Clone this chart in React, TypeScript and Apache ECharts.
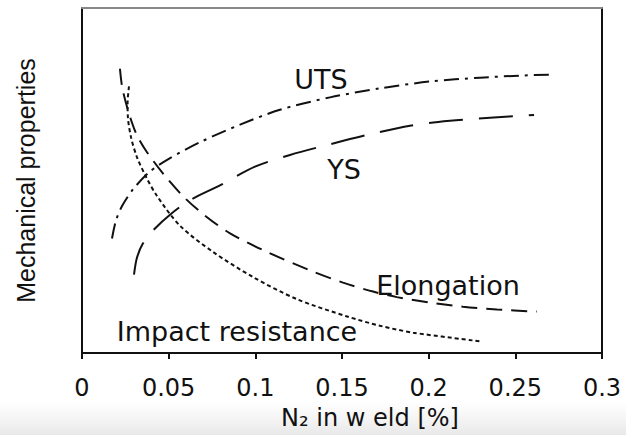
import React, { useEffect, useRef } from "react";
import * as echarts from "echarts";

// x: N2 in weld [%], y: relative mechanical property level (0-100, axis hidden)
const utsX = [0.0173, 0.0196, 0.0231, 0.0294, 0.0392, 0.0508, 0.0681, 0.0912, 0.1142, 0.1431, 0.1719, 0.2008, 0.2296, 0.2527, 0.2717];
const utsY = [33.2, 38.4, 42.6, 47.4, 52.6, 56.5, 61.1, 66.2, 70.5, 74.1, 76.7, 78.7, 79.8, 80.4, 80.7];

const ysX = [0.03, 0.0317, 0.0352, 0.0421, 0.0508, 0.0623, 0.0796, 0.0998, 0.12, 0.1431, 0.1662, 0.1892, 0.2123, 0.2354, 0.2608];
const ysY = [22.7, 27.6, 31.8, 36.1, 40.1, 44.3, 48.6, 54.0, 57.4, 60.5, 63.4, 65.9, 67.3, 68.2, 69.0];

const elongX = [0.0219, 0.0231, 0.0254, 0.0288, 0.0317, 0.0375, 0.0473, 0.0588, 0.071, 0.0854, 0.1067, 0.1333, 0.1506, 0.1679, 0.1817, 0.2008, 0.2198, 0.2394, 0.2625];
const elongY = [82.4, 77.3, 72.4, 66.8, 63.1, 58.2, 51.7, 45.2, 39.8, 34.7, 29.3, 23.6, 20.4, 17.8, 16.2, 14.6, 13.4, 12.6, 12.0];

const impactX = [0.0271, 0.0263, 0.0265, 0.0283, 0.0317, 0.0369, 0.0433, 0.0565, 0.0756, 0.0987, 0.124, 0.1529, 0.1719, 0.191, 0.2296];
const impactY = [77.3, 72.4, 68.2, 62.5, 56.8, 51.1, 45.5, 36.9, 29.3, 22.0, 15.6, 10.6, 7.9, 5.9, 3.4];

const xTicks = { min: 0, max: 0.3, interval: 0.05 };
const curveLabels = ["UTS", "YS", "Elongation", "Impact resistance"];
const xTitle = "N₂ in w eld [%]";
const yTitle = "Mechanical properties";

const zip = (xs: number[], ys: number[]) => xs.map((x, i) => [x, ys[i]]);

export default function App() {
  const ref = useRef<HTMLDivElement>(null);
  useEffect(() => {
    if (!ref.current) return;
    const chart = echarts.init(ref.current, undefined, { renderer: "svg" });
    const lineSeries = (name: string, xs: number[], ys: number[], dash: number[]) => ({
      name,
      type: "line",
      data: zip(xs, ys),
      smooth: 0.3,
      showSymbol: false,
      symbol: "none",
      lineStyle: { color: "#111", width: 2, type: dash },
      xAxisIndex: 0,
      yAxisIndex: 0,
    });
    const labelFont = "27px 'DejaVu Sans'";
    const txt = (text: string, x: number, y: number) => ({
      type: "text",
      x,
      y,
      style: {
        text,
        font: labelFont,
        fill: "#111",
        textAlign: "center",
        textVerticalAlign: "middle",
        align: "center",
        verticalAlign: "middle",
      },
    });
    chart.setOption({
      animation: false,
      backgroundColor: "#ffffff",
      grid: { left: 82, right: 24, top: 8, bottom: 75 },
      xAxis: [
        {
          type: "value",
          position: "bottom",
          min: xTicks.min,
          max: xTicks.max,
          interval: xTicks.interval,
          axisLine: { show: true, onZero: false, lineStyle: { color: "#111", width: 2 } },
          axisTick: { show: true, inside: false, length: 6, lineStyle: { color: "#111", width: 2 } },
          axisLabel: {
            margin: 23,
            fontFamily: "DejaVu Sans",
            fontSize: 24,
            color: "#111",
            formatter: (v: number) => String(parseFloat(v.toFixed(2))),
          },
          splitLine: { show: false },
          name: xTitle,
          nameLocation: "middle",
          nameGap: 53,
          nameTextStyle: {
            fontFamily: "DejaVu Sans",
            fontSize: 24,
            color: "#111",
            padding: [0, 0, 0, 56],
          },
        },
        {
          type: "value",
          position: "top",
          min: xTicks.min,
          max: xTicks.max,
          axisLine: { show: true, onZero: false, lineStyle: { color: "#888", width: 2 } },
          axisTick: { show: false },
          axisLabel: { show: false },
          splitLine: { show: false },
        },
      ],
      yAxis: [
        {
          type: "value",
          position: "left",
          min: 0,
          max: 100,
          axisLine: { show: true, onZero: false, lineStyle: { color: "#111", width: 2 } },
          axisTick: { show: false },
          axisLabel: { show: false },
          splitLine: { show: false },
          name: yTitle,
          nameLocation: "middle",
          nameGap: 44,
          nameTextStyle: { fontFamily: "Liberation Sans", fontSize: 25, color: "#111" },
        },
        {
          type: "value",
          position: "right",
          min: 0,
          max: 100,
          axisLine: { show: true, onZero: false, lineStyle: { color: "#111", width: 2 } },
          axisTick: { show: false },
          axisLabel: { show: false },
          splitLine: { show: false },
        },
      ],
      series: [
        lineSeries("UTS", utsX, utsY, [15, 6, 3, 6]),
        lineSeries("YS", ysX, ysY, [34, 16]),
        lineSeries("Elongation", elongX, elongY, [16, 9]),
        lineSeries("Impact resistance", impactX, impactY, [4, 3]),
      ],
      graphic: [
        {
          type: "rect",
          z: -10,
          silent: true,
          shape: { x: 0, y: 402, width: 626, height: 33 },
          style: {
            fill: new echarts.graphic.LinearGradient(0, 0, 0, 1, [
              { offset: 0, color: "rgba(236,236,236,0)" },
              { offset: 1, color: "rgba(232,232,232,1)" },
            ]),
          },
        },
        txt(curveLabels[0], 321, 79),
        txt(curveLabels[1], 344, 169),
        txt(curveLabels[2], 448, 285),
        txt(curveLabels[3], 237, 331),
      ],
    });
    return () => chart.dispose();
  }, []);
  return (
    <div
      ref={ref}
      style={{ position: "fixed", left: 0, top: 0, width: 626, height: 435, background: "#fff" }}
    />
  );
}
